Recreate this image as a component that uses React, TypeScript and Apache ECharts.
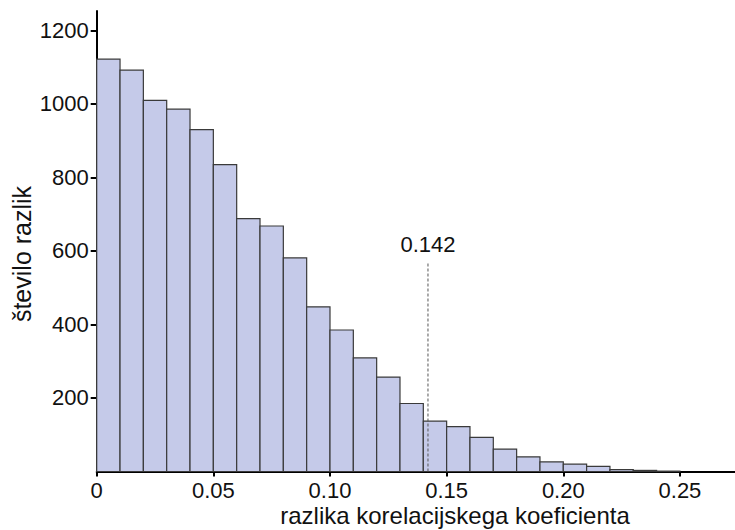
import React, { useEffect, useRef } from "react";
import * as echarts from "echarts";

const binStarts = [0, 0.01, 0.02, 0.03, 0.04, 0.05, 0.06, 0.07, 0.08, 0.09, 0.1, 0.11, 0.12, 0.13, 0.14, 0.15, 0.16, 0.17, 0.18, 0.19, 0.2, 0.21, 0.22, 0.23, 0.24];
const counts = [1122, 1092, 1010, 986, 930, 835, 688, 668, 581, 448, 385, 309, 257, 185, 137, 122, 93, 61, 40, 26, 20, 14, 5, 3, 1];
const binWidth = 0.01;
const xTicks = [0, 0.05, 0.1, 0.15, 0.2, 0.25];
const yTicks = [200, 400, 600, 800, 1000, 1200];
const markerValue = 0.142;
const markerTop = 571;
const xTitle = "razlika korelacijskega koeficienta";
const yTitle = "število razlik";

export default function App() {
  const ref = useRef<HTMLDivElement>(null);
  useEffect(() => {
    const chart = echarts.init(ref.current!, undefined, { renderer: "svg" });
    const font = "'Liberation Sans', Arial, sans-serif";
    chart.setOption({
      animation: false,
      grid: { left: 96.7, top: 11, right: 0, bottom: 58.5, containLabel: false },
      xAxis: {
        type: "value",
        min: 0,
        max: 0.2736,
        interval: 0.05,
        splitLine: { show: false },
        axisLine: { show: true, lineStyle: { color: "#000", width: 2 } },
        axisTick: { show: true, length: 5, lineStyle: { color: "#000", width: 2 }, customValues: xTicks },
        axisLabel: {
          customValues: xTicks,
          color: "#111",
          fontSize: 22,
          fontFamily: font,
          margin: 8,
          formatter: (v: number) => (v === 0 ? "0" : v.toFixed(2)),
        },
      },
      yAxis: {
        type: "value",
        min: 0,
        max: 1253,
        splitLine: { show: false },
        axisLine: { show: true, lineStyle: { color: "#000", width: 2 } },
        axisTick: { show: true, length: 6, lineStyle: { color: "#000", width: 2 }, customValues: yTicks },
        axisLabel: {
          customValues: yTicks,
          color: "#111",
          fontSize: 22,
          fontFamily: font,
          margin: 8,
          formatter: (v: number) => String(v),
        },
      },
      graphic: [
        {
          type: "text",
          x: 455,
          y: 515,
          style: { text: xTitle, fill: "#111", fontSize: 24, fontFamily: font, align: "center", verticalAlign: "middle" },
        },
        {
          type: "text",
          x: 22,
          y: 254,
          rotation: Math.PI / 2,
          style: { text: yTitle, fill: "#111", fontSize: 25, fontFamily: font, align: "center", verticalAlign: "middle" },
        },
      ],
      series: [
        {
          type: "custom",
          data: binStarts.map((s, i) => [s, s + binWidth, counts[i]]),
          renderItem: (params: any, api: any) => {
            const p0 = api.coord([api.value(0), 0]);
            const p1 = api.coord([api.value(1), api.value(2)]);
            return {
              type: "rect",
              shape: { x: p0[0], y: p1[1], width: p1[0] - p0[0], height: p0[1] - p1[1] },
              style: { fill: "#c5cae9", stroke: "#3a3a3a", lineWidth: 1.2 },
            };
          },
          encode: { x: [0, 1], y: 2 },
          z: 2,
        },
        {
          type: "line",
          data: [
            [markerValue, 0],
            [markerValue, markerTop],
          ],
          symbol: "none",
          lineStyle: { color: "#555", width: 1, type: [3, 2] },
          z: 3,
          markPoint: {
            symbol: "circle",
            symbolSize: 0,
            data: [{ coord: [markerValue, markerTop] }],
            label: {
              show: true,
              formatter: "0.142",
              position: "top",
              distance: 6,
              color: "#111",
              fontSize: 22,
              fontFamily: font,
            },
          },
        },
      ],
    });
    return () => chart.dispose();
  }, []);
  return <div ref={ref} style={{ width: 735, height: 530, position: "absolute", left: 0, top: 0 }} />;
}
